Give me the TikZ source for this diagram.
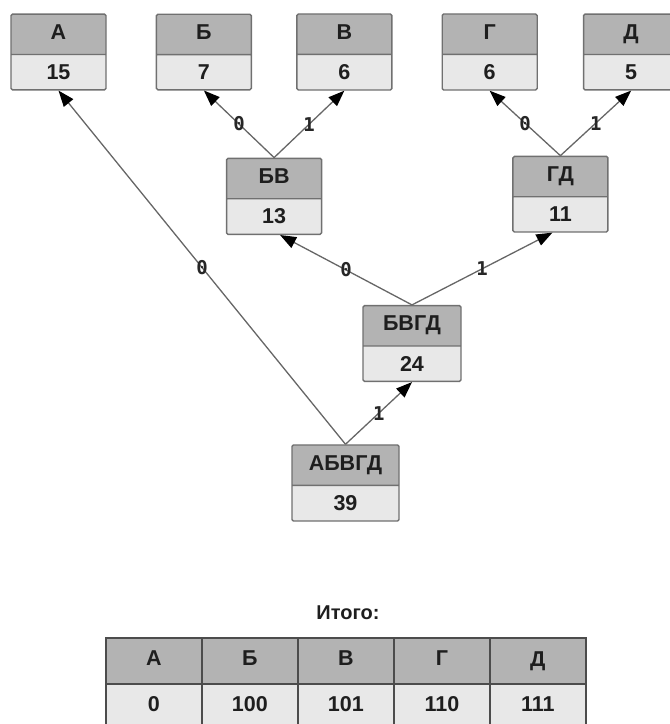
\documentclass[tikz,border=0pt]{standalone}
\usepackage{fontspec}
\setmainfont{Liberation Sans}
\newfontfamily\bitfont{DejaVu Sans Mono}
\usetikzlibrary{positioning,calc,shapes.multipart,arrows.meta}

\definecolor{headgray}{HTML}{B3B3B3}
\definecolor{bodygray}{HTML}{E8E8E8}
\definecolor{framegray}{HTML}{707070}
\definecolor{inkgray}{HTML}{1E1E1E}

\tikzset{
	codebox/.style={rectangle split, rectangle split parts=2,
		draw=framegray, line width=1.4pt, rounded corners=1.5pt,
		rectangle split part fill={headgray,bodygray},
		minimum width=95pt, inner xsep=4pt, inner ysep=9.5pt,
		text height=15pt, text depth=5pt, text=inkgray,
		font=\fontsize{21.5}{25}\selectfont\bfseries},
	cell/.style={codebox, draw=black!70, line width=1.8pt, rounded corners=0pt,
		minimum width=96pt, inner ysep=12pt},
	edge/.style={draw=black!60, line width=1.3pt,
		-{Triangle[length=16pt,width=12pt,color=black]}},
	bit/.style={font=\bitfont\fontsize{19}{21}\selectfont\bfseries,
		inner sep=0pt, text=black!85}
}

\begin{document}
\begin{tikzpicture}[x=1pt, y=-1pt]
	\useasboundingbox (0,0) rectangle (670,724);
	\clip (0,0) rectangle (670,724);
	% leaves
	\node[codebox] (a) at (58.5,52) {А \nodepart{two} 15};
	\node[codebox, right=49pt of a] (b) {Б \nodepart{two} 7};
	\node[codebox, right=44pt of b] (v) {В \nodepart{two} 6};
	\node[codebox, right=49pt of v] (g) {Г \nodepart{two} 6};
	\node[codebox, right=45pt of g] (d) {Д \nodepart{two} 5};
	% inner nodes
	\node[codebox, below=67pt of {$(b.south)!0.5!(v.south)$}] (bv) {БВ \nodepart{two} 13};
	\node[codebox, below=65pt of {$(g.south)!0.5!(d.south)$}] (gd) {ГД \nodepart{two} 11};
	\node[codebox, minimum width=98pt] (bvgd) at (412,343.5) {БВГД \nodepart{two} 24};
	\node[codebox, minimum width=107pt] (abvgd) at (345.5,483) {АБВГД \nodepart{two} 39};
	% edges
	\draw[edge] (abvgd.north) -- node[bit] {0} (a.south);
	\draw[edge] (abvgd.north) -- node[bit] {1} (bvgd.south);
	\draw[edge] (bvgd.north) -- node[bit] {0} ([xshift=6pt]bv.south);
	\draw[edge] (bvgd.north) -- node[bit] {1} ([xshift=-8pt]gd.south);
	\draw[edge] (bv.north) -- node[bit] {0} (b.south);
	\draw[edge] (bv.north) -- node[bit] {1} (v.south);
	\draw[edge] (gd.north) -- node[bit] {0} (g.south);
	\draw[edge] (gd.north) -- node[bit] {1} (d.south);
	% result table
	\node[font=\fontsize{20}{24}\selectfont\bfseries, text=inkgray] (total) at (348,613) {Итого:};
	\node[cell, anchor=north west] (c1) at (105,637) {А \nodepart{two} 0};
	\node[cell, right=-1.8pt of c1] (c2) {Б \nodepart{two} 100};
	\node[cell, right=-1.8pt of c2] (c3) {В \nodepart{two} 101};
	\node[cell, right=-1.8pt of c3] (c4) {Г \nodepart{two} 110};
	\node[cell, right=-1.8pt of c4] (c5) {Д \nodepart{two} 111};
\end{tikzpicture}
\end{document}
